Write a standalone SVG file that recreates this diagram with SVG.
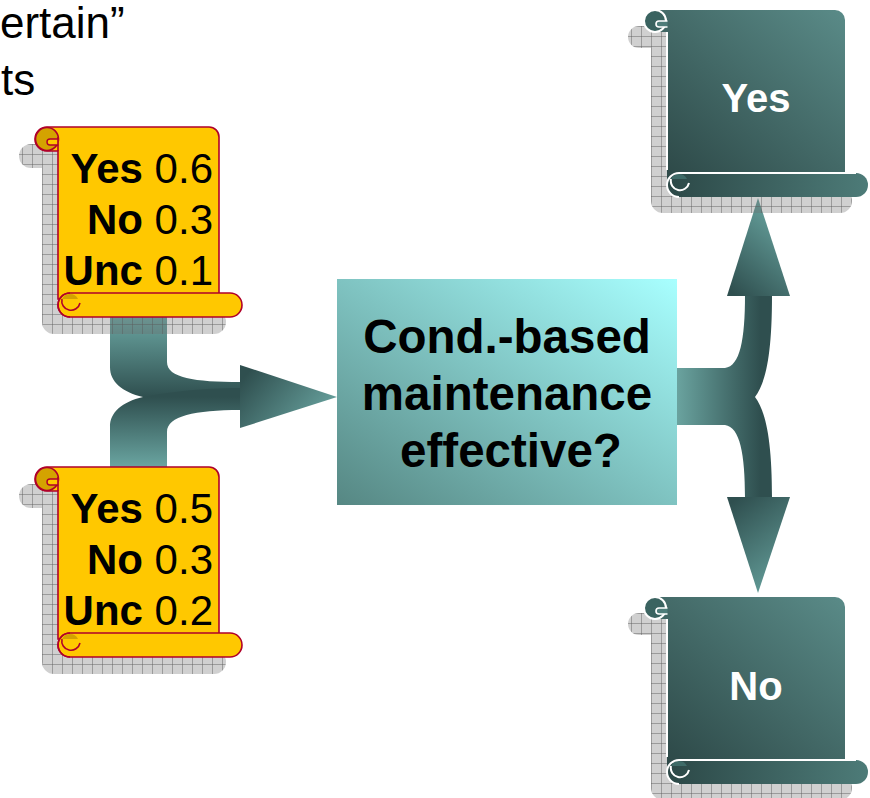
<svg xmlns="http://www.w3.org/2000/svg" xmlns:xlink="http://www.w3.org/1999/xlink" width="870" height="798" viewBox="0 0 870 798">
<style>
.t{font-family:"Liberation Sans",Arial,sans-serif}
.sv{font-size:42px;fill:#000}
.wt{font-size:40px;font-weight:bold;fill:#fff}
.bx{font-size:47.5px;font-weight:bold;fill:#000}
.yline{fill:none;stroke:#b0002a;stroke-width:1.6}
.tline{fill:none;stroke:#fff;stroke-width:2}
</style>
<defs>
<pattern id="chk" patternUnits="userSpaceOnUse" width="10" height="10">
<rect width="10" height="10" fill="rgba(110,110,110,0.32)"/>
<path d="M0 0.5H10M0.5 0V10" stroke="rgba(90,90,90,0.45)" stroke-width="1"/>
</pattern>
<linearGradient id="boxg" x1="0" y1="1" x2="1" y2="0">
<stop offset="0" stop-color="#568783"/><stop offset="1" stop-color="#a8ffff"/>
</linearGradient>
<linearGradient id="tbody" x1="0" y1="1" x2="1" y2="0">
<stop offset="0" stop-color="#2a4443"/><stop offset="1" stop-color="#5a8b88"/>
</linearGradient>
<linearGradient id="troll" x1="0" y1="0" x2="1" y2="0">
<stop offset="0" stop-color="#2c4847"/><stop offset="1" stop-color="#4d7b78"/>
</linearGradient>
<linearGradient id="lgUp" gradientUnits="userSpaceOnUse" x1="0" y1="317" x2="0" y2="397">
<stop offset="0" stop-color="#6aa5a1"/><stop offset="1" stop-color="#2f4f4f"/>
</linearGradient>
<linearGradient id="lgDn" gradientUnits="userSpaceOnUse" x1="0" y1="467" x2="0" y2="397">
<stop offset="0" stop-color="#6aa5a1"/><stop offset="1" stop-color="#2f4f4f"/>
</linearGradient>
<linearGradient id="lgHead" gradientUnits="userSpaceOnUse" x1="250" y1="370" x2="320" y2="430">
<stop offset="0" stop-color="#2f4f4f"/><stop offset="1" stop-color="#6aa5a1"/>
</linearGradient>
<linearGradient id="rgBand" gradientUnits="userSpaceOnUse" x1="677" y1="0" x2="760" y2="0">
<stop offset="0" stop-color="#6aa39f"/><stop offset="1" stop-color="#2f4f4f"/>
</linearGradient>
<linearGradient id="rgUpH" gradientUnits="userSpaceOnUse" x1="735" y1="295" x2="790" y2="230">
<stop offset="0" stop-color="#2f4f4f"/><stop offset="1" stop-color="#629b97"/>
</linearGradient>
<linearGradient id="rgDnH" gradientUnits="userSpaceOnUse" x1="735" y1="500" x2="790" y2="575">
<stop offset="0" stop-color="#2f4f4f"/><stop offset="1" stop-color="#629b97"/>
</linearGradient>
<path id="ysh" d="M-11 0H151A10 10 0 0 1 161 10V166H172A12 12 0 0 1 172 190H12A12 12 0 0 1 0 178V24H-11A12 12 0 0 1 -11 0Z"/>
<path id="tsh" d="M-12 0H168A10 10 0 0 1 178 10V163H189A12 12 0 0 1 189 187H12A12 12 0 0 1 0 175V22H-12A11 11 0 0 1 -12 0Z"/>
<g id="yscroll">
<path d="M-11 0H151A10 10 0 0 1 161 10V172H0V24H-11A12 12 0 0 1 -11 0Z" fill="#ffc800" stroke="#b0002a" stroke-width="1.6"/>
<circle cx="-11" cy="12" r="11.5" fill="#d4a300" stroke="#b0002a" stroke-width="1.6"/>
<path d="M0.5 18H-8A3 3 0 0 1 -8 12H0.5" fill="#ffc800" stroke="#b0002a" stroke-width="1.4"/>
<path d="M0 24V10" class="yline"/>
<path d="M12 166H172A12 12 0 0 1 172 190H12A12 12 0 0 1 12 166Z" fill="#ffc800" stroke="#b0002a" stroke-width="1.6"/>
<path d="M4 172A9 9 0 0 1 20 172Z" fill="#d4a300"/>
<path d="M12 166A12 12 0 0 0 12 190M4 172A9 9 0 1 0 22 176" class="yline"/>
</g>
<g id="tscroll">
<path d="M-12 0H168A10 10 0 0 1 178 10V170H0V22H-12A11 11 0 0 1 -12 0Z" fill="url(#tbody)"/>
<circle cx="-12" cy="11" r="11" fill="#3a6360" stroke="#fff" stroke-width="2"/>
<path d="M0.5 17H-8A3 3 0 0 1 -8 11H0.5" fill="#4e7c79" stroke="#fff" stroke-width="1.6"/>
<path d="M0 22V160" class="tline"/>
<path d="M12 163H189A12 12 0 0 1 189 187H12A12 12 0 0 1 12 163Z" fill="url(#troll)"/>
<path d="M4 169A9 9 0 0 1 20 169Z" fill="#3f6b68"/>
<path d="M189 163H12A12 12 0 0 0 12 187M4 169A9 9 0 1 0 22 173" class="tline"/>
</g>
</defs>
<rect width="870" height="798" fill="#fff"/>

<g id="title" class="t" font-size="44" fill="#000">
<text x="0" y="38">ertain”</text>
<text x="1" y="95">ts</text>
</g>

<g id="connectors">
<path d="M110 317H167V362C167 378 195 382 240 382L240 404C200 404 160 400 143 397C122 392 110 382 110 367Z" fill="url(#lgUp)"/>
<path d="M110 467H167V432C167 416 195 410 240 410L240 388C200 388 160 393 143 397C122 402 110 412 110 427Z" fill="url(#lgDn)"/>
<polygon points="240,365 337,397 240,428" fill="url(#lgHead)"/>
<path d="M677 368H725C740 366 745 340 745 295H772C772 355 766 382 755 397L677 397Z" fill="url(#rgBand)"/>
<path d="M677 425H725C740 427 745 454 745 498H772C772 440 766 412 755 397L677 397Z" fill="url(#rgBand)"/>
<polygon points="727,296 758,198 790,296" fill="url(#rgUpH)"/>
<polygon points="727,497 758,593 790,497" fill="url(#rgDnH)"/>
</g>

<g id="input1">
<use href="#ysh" xlink:href="#ysh" transform="translate(42,144)" fill="url(#chk)"/>
<use href="#yscroll" xlink:href="#yscroll" transform="translate(58,127)"/>
<text class="t sv" x="213" y="183" text-anchor="end"><tspan font-weight="bold">Yes</tspan> 0.6</text>
<text class="t sv" x="213" y="234" text-anchor="end"><tspan font-weight="bold">No</tspan> 0.3</text>
<text class="t sv" x="213" y="285" text-anchor="end"><tspan font-weight="bold">Unc</tspan> 0.1</text>
</g>

<g id="input2">
<use href="#ysh" xlink:href="#ysh" transform="translate(42,484)" fill="url(#chk)"/>
<use href="#yscroll" xlink:href="#yscroll" transform="translate(58,467)"/>
<text class="t sv" x="213" y="523" text-anchor="end"><tspan font-weight="bold">Yes</tspan> 0.5</text>
<text class="t sv" x="213" y="574" text-anchor="end"><tspan font-weight="bold">No</tspan> 0.3</text>
<text class="t sv" x="213" y="625" text-anchor="end"><tspan font-weight="bold">Unc</tspan> 0.2</text>
</g>

<g id="decision">
<rect x="337" y="279" width="340" height="226" fill="url(#boxg)"/>
<text class="t bx" x="507" y="353" text-anchor="middle">Cond.-based</text>
<text class="t bx" x="507" y="410" text-anchor="middle">maintenance</text>
<text class="t bx" x="511" y="467" text-anchor="middle">effective?</text>
</g>

<g id="outYes">
<use href="#tsh" xlink:href="#tsh" transform="translate(651,26)" fill="url(#chk)"/>
<use href="#tscroll" xlink:href="#tscroll" transform="translate(667,10)"/>
<text class="t wt" x="756" y="112" text-anchor="middle">Yes</text>
</g>

<g id="outNo">
<use href="#tsh" xlink:href="#tsh" transform="translate(651,613)" fill="url(#chk)"/>
<use href="#tscroll" xlink:href="#tscroll" transform="translate(667,597)"/>
<text class="t wt" x="756" y="700" text-anchor="middle">No</text>
</g>
</svg>
